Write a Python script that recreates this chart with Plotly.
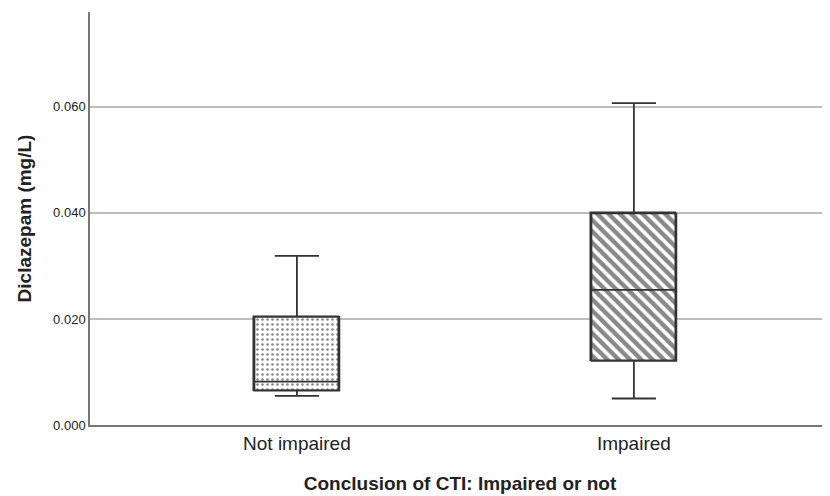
import plotly.graph_objects as go

categories = ["Not impaired", "Impaired"]
lower_whisker = [0.0055, 0.0050]
q1 = [0.0065, 0.0121]
median = [0.0082, 0.0255]
q3 = [0.0204, 0.0399]
upper_whisker = [0.0319, 0.0607]
patterns = [".", "\\"]

y_ticks = [0.0, 0.02, 0.04, 0.06]
y_tick_labels = ["0.000", "0.020", "0.040", "0.060"]

box_w = 0.252
fig = go.Figure()
fig.add_trace(go.Bar(
    x=categories, y=[b - a for a, b in zip(q1, q3)], base=q1, width=box_w,
    marker=dict(color="white", line=dict(color="#333333", width=1.5),
                pattern=dict(shape=patterns, fgcolor="#111111", bgcolor="white",
                             size=[5, 8], solidity=[0.22, 0.55])),
    showlegend=False, hoverinfo="skip"))
fig.add_trace(go.Box(
    x=categories, q1=q1, median=median, q3=q3,
    lowerfence=lower_whisker, upperfence=upper_whisker,
    width=box_w, whiskerwidth=0.52, fillcolor="rgba(0,0,0,0)",
    line=dict(color="#333333", width=1.8), showlegend=False, boxpoints=False))

fig.update_layout(
    width=830, height=496, template="plotly_white",
    paper_bgcolor="white", plot_bgcolor="white",
    margin=dict(l=82, r=8, t=4, b=79),
    font=dict(family="Liberation Sans, Arial, sans-serif", color="#222222"),
    bargap=0,
)
fig.update_xaxes(
    type="category", range=[-0.614, 1.582],
    showline=True, linecolor="#777777", linewidth=1.5, showgrid=False,
    ticks="", tickfont=dict(size=19, color="#222222"),
    title=dict(text="<b>Conclusion of CTI: Impaired or not</b>", font=dict(size=19), standoff=24),
)
fig.update_yaxes(
    range=[0, 0.0779], tickvals=y_ticks, ticktext=y_tick_labels,
    showline=True, linecolor="#777777", linewidth=1.5,
    showgrid=True, gridcolor="#bdbdbd", gridwidth=1.5, zeroline=False,
    ticks="", tickfont=dict(size=13, color="#222222"),
    title=dict(text="<b>Diclazepam (mg/L)</b>", font=dict(size=19), standoff=16),
)
fig.write_html("out.html")
